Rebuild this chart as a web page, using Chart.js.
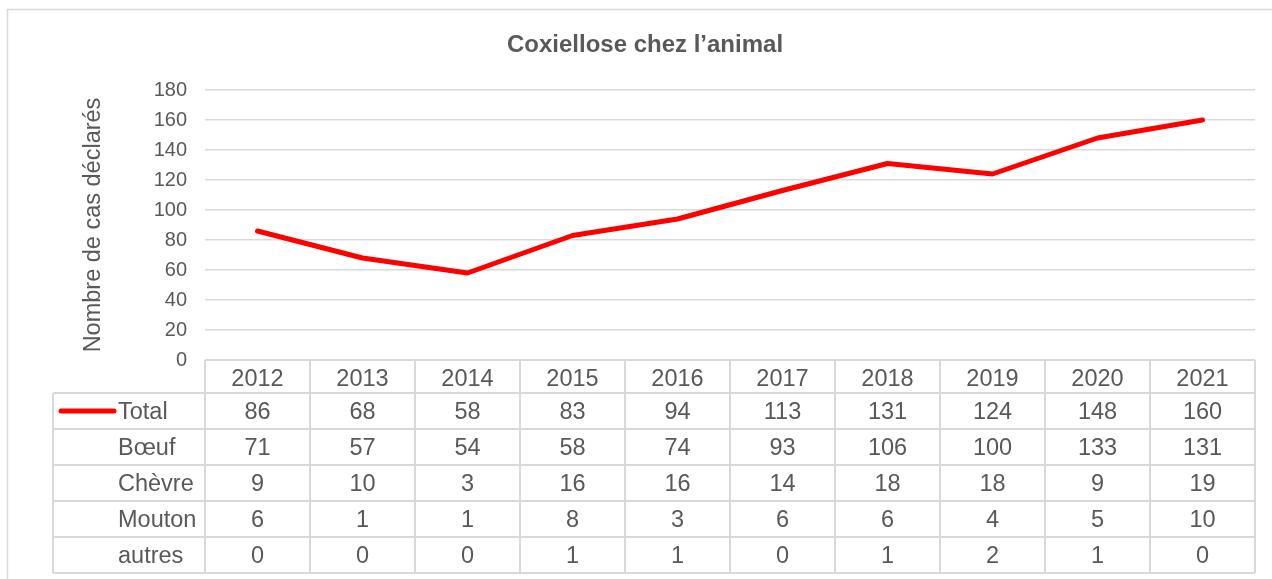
<!doctype html>
<html>
<head>
<meta charset="utf-8">
<title>Coxiellose chez l'animal</title>
<script src="https://cdn.jsdelivr.net/npm/chart.js@4/dist/chart.umd.min.js"></script>
<style>
html, body { margin: 0; padding: 0; background: #fff; }
canvas { display: block; }
</style>
</head>
<body>
<canvas id="canvas1" width="1272" height="579"></canvas>
<script>
// donnees
var years = ['2012', '2013', '2014', '2015', '2016', '2017', '2018', '2019', '2020', '2021'];
var total = [86, 68, 58, 83, 94, 113, 131, 124, 148, 160];
var boeuf = [71, 57, 54, 58, 74, 93, 106, 100, 133, 131];
var chevre = [9, 10, 3, 16, 16, 14, 18, 18, 9, 19];
var mouton = [6, 1, 1, 8, 3, 6, 6, 4, 5, 10];
var autres = [0, 0, 0, 1, 1, 0, 1, 2, 1, 0];
var rowLabels = ['Total', 'Bœuf', 'Chèvre', 'Mouton', 'autres'];
var rowValues = [total, boeuf, chevre, mouton, autres];

var textColor = '#595959';
var lineColor = '#d9d9d9';
var fontName = '"Liberation Sans", Arial, sans-serif';

// tableau de donnees sous le graphique (comme dans Excel)
var tablePlugin = {
    id: 'dataTable',
    beforeDraw: function(chart) {
        var ctx = chart.ctx;
        ctx.save();
        ctx.strokeStyle = lineColor;
        ctx.lineWidth = 1.5;
        ctx.strokeRect(7.5, 9.5, 1300, 600);
        ctx.restore();
    },
    afterDraw: function(chart) {
        var ctx = chart.ctx;
        var xs = chart.scales.x;
        var area = chart.chartArea;
        var step = xs.getPixelForValue(1) - xs.getPixelForValue(0);
        var top = area.bottom;
        var headerH = 33;
        var rowH = 36;
        var labelLeft = 53;
        var bottom = top + headerH + rowH * rowLabels.length;

        ctx.save();
        ctx.strokeStyle = lineColor;
        ctx.lineWidth = 2;
        ctx.beginPath();
        // ligne du haut (entetes)
        ctx.moveTo(area.left, top);
        ctx.lineTo(area.right, top);
        for (var r = 0; r <= rowLabels.length; r++) {
            var y = top + headerH + r * rowH;
            ctx.moveTo(labelLeft, y);
            ctx.lineTo(area.right, y);
        }
        for (var i = 0; i <= years.length; i++) {
            var x = xs.getPixelForValue(0) - step / 2 + i * step;
            ctx.moveTo(x, top);
            ctx.lineTo(x, bottom);
        }
        ctx.moveTo(labelLeft, top + headerH);
        ctx.lineTo(labelLeft, bottom);
        ctx.stroke();

        ctx.fillStyle = textColor;
        ctx.font = '23.5px ' + fontName;
        ctx.textBaseline = 'middle';
        for (var r = 0; r < rowLabels.length; r++) {
            var cy = top + headerH + r * rowH + rowH / 2 + 2;
            ctx.textAlign = 'left';
            ctx.fillText(rowLabels[r], 118, cy);
            ctx.textAlign = 'center';
            for (var i = 0; i < years.length; i++) {
                ctx.fillText(String(rowValues[r][i]), xs.getPixelForValue(i), cy);
            }
        }

        // cle de legende pour la serie Total
        var ly = top + headerH + rowH / 2;
        ctx.strokeStyle = '#ff0000';
        ctx.lineWidth = 5;
        ctx.lineCap = 'round';
        ctx.beginPath();
        ctx.moveTo(61, ly);
        ctx.lineTo(114, ly);
        ctx.stroke();
        ctx.restore();
    }
};

window.onload = function() {
    var ctx1 = document.getElementById('canvas1').getContext('2d');
    window.myLine = new Chart(ctx1, {
        type: 'line',
        data: {
            labels: years,
            datasets: [{
                label: 'Total',
                data: total,
                borderColor: '#ff0000',
                backgroundColor: '#ff0000',
                borderWidth: 5,
                borderCapStyle: 'round',
                borderJoinStyle: 'round',
                pointRadius: 0,
                tension: 0,
                fill: false
            }]
        },
        options: {
            responsive: false,
            animation: false,
            devicePixelRatio: 1,
            layout: {
                padding: { left: 35, right: 17, top: 31, bottom: 6 }
            },
            plugins: {
                legend: { display: false },
                tooltip: { enabled: false },
                title: {
                    display: true,
                    text: 'Coxiellose chez l\u2019animal',
                    color: textColor,
                    font: { family: fontName, size: 24, weight: 'bold' },
                    padding: { top: 0, bottom: 30.2 }
                }
            },
            scales: {
                x: {
                    offset: true,
                    grid: { display: false, drawTicks: false },
                    border: { display: false },
                    ticks: {
                        color: textColor,
                        font: { family: fontName, size: 23.5 },
                        padding: 5,
                        maxRotation: 0
                    },
                    afterFit: function(scale) { scale.height = 213; }
                },
                y: {
                    min: 0,
                    max: 180,
                    grid: { color: lineColor, lineWidth: 1.5, drawTicks: false },
                    border: { display: false },
                    ticks: {
                        stepSize: 20,
                        color: textColor,
                        font: { family: fontName, size: 20 },
                        padding: 18
                    },
                    title: {
                        display: true,
                        text: 'Nombre de cas déclarés',
                        color: textColor,
                        font: { family: fontName, size: 23.5 },
                        padding: { top: 44, bottom: 0 }
                    },
                    afterFit: function(scale) { scale.width = 170; }
                }
            }
        },
        plugins: [tablePlugin]
    });
};
</script>
</body>
</html>
